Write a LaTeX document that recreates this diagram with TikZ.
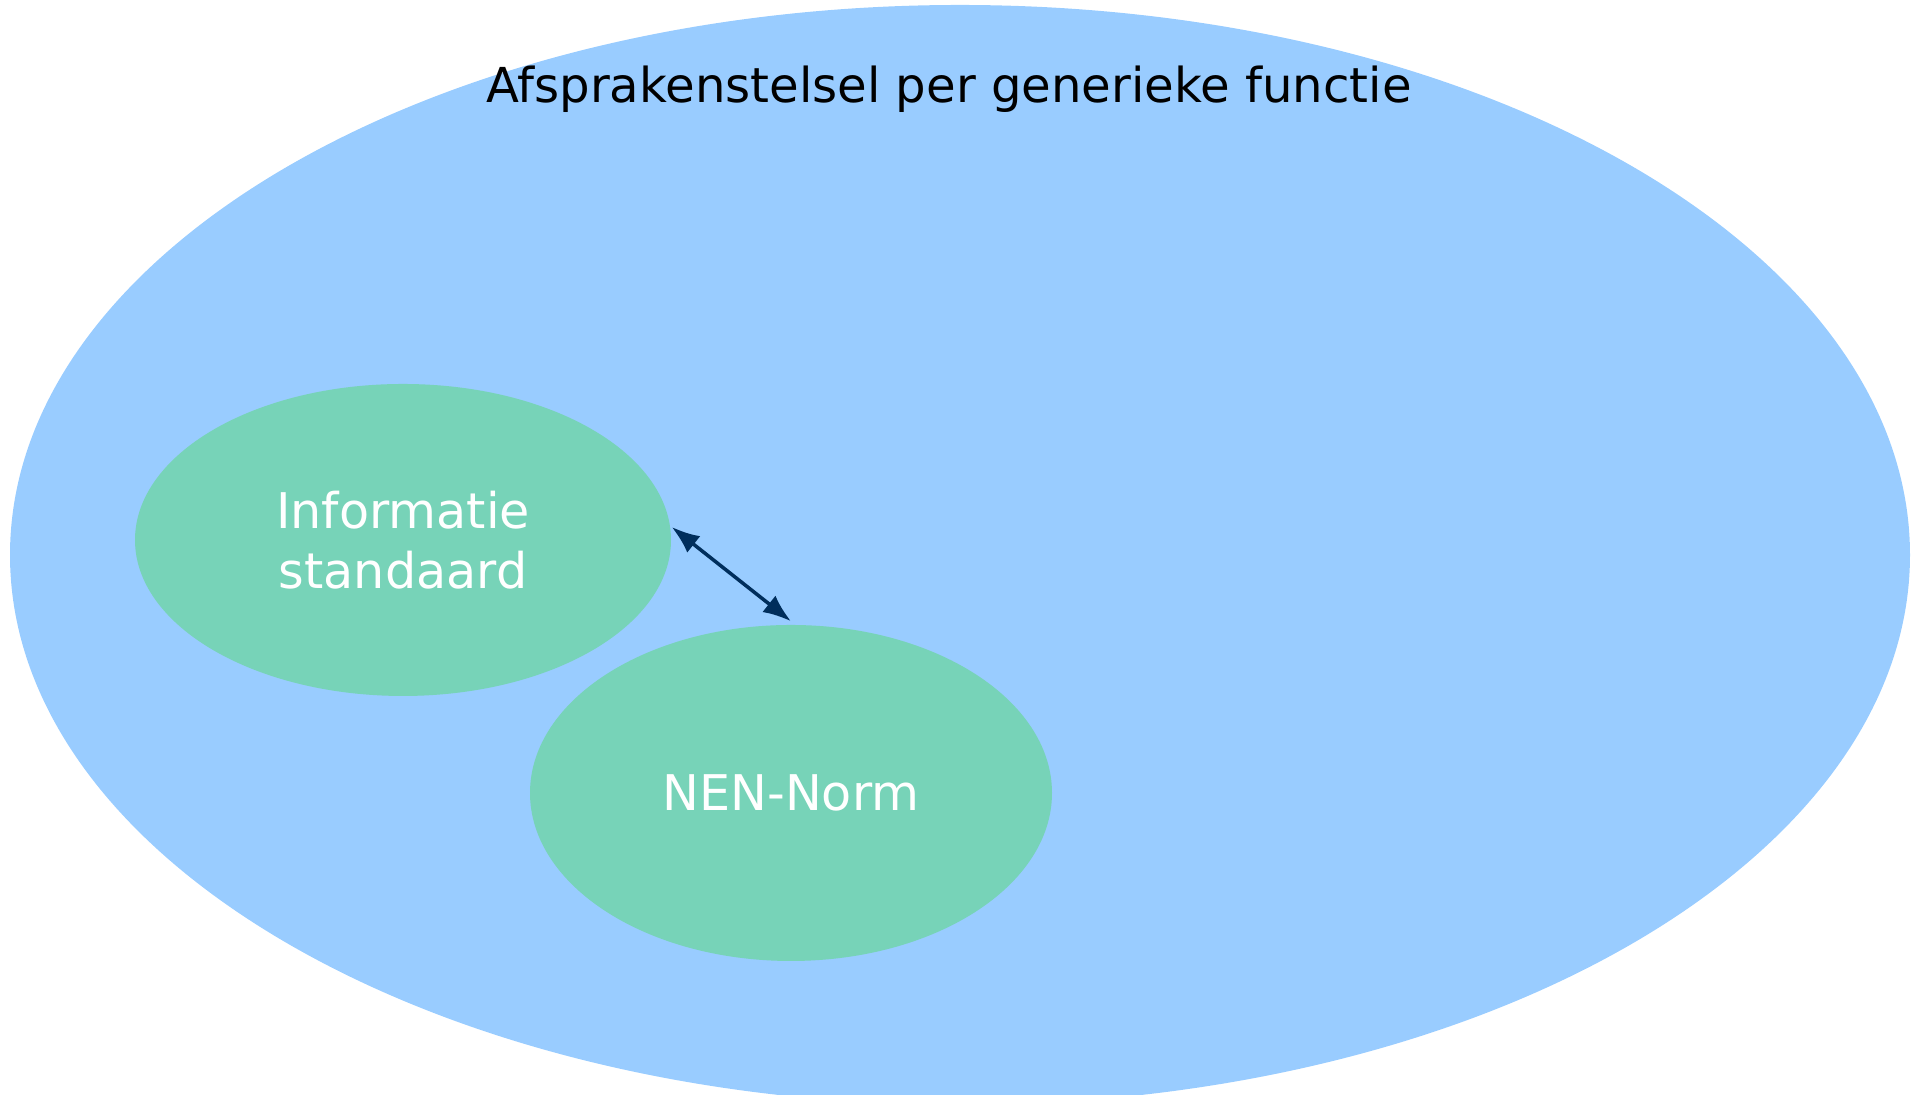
\documentclass[tikz,border=0pt]{standalone}
\usepackage{fontspec}
\setmainfont{DejaVu Sans}
\usepackage{tikz}
\usetikzlibrary{calc, positioning, arrows.meta, shapes}
\definecolor{stelselblue}{RGB}{153,204,255}
\definecolor{normgreen}{RGB}{119,211,184}
\definecolor{arrownavy}{RGB}{0,46,92}

\begin{document}
\begin{tikzpicture}[node distance=1.5cm]
		\useasboundingbox (0,0) rectangle (19.21,10.95);

		% nodes - outer set and its two parts %
		\node[ellipse, fill=stelselblue, inner sep=0, minimum width=19cm, minimum height=11cm] (stelsel) at (9.60,5.40) {};
		\node[below=0.49cm of stelsel.north, xshift=-0.11cm, font=\fontsize{13.7}{17}\selectfont, text centered] (titel) {Afsprakenstelsel per generieke functie};
		\node[ellipse, fill=normgreen, inner sep=0, minimum width=5.36cm, minimum height=3.12cm, text=white, align=center, font=\fontsize{14}{17}\selectfont] (info) at (4.03,5.55) {Informatie\\standaard};
		\node[ellipse, fill=normgreen, inner sep=0, minimum width=5.22cm, minimum height=3.36cm, text=white, font=\fontsize{14}{17}\selectfont] (nen) at (7.91,3.02) {NEN-Norm};

		% edges %
		\draw[{Latex[length=2.8mm,width=2.1mm]}-{Latex[length=2.8mm,width=2.1mm]}, line width=1, arrownavy] ([yshift=1.3mm]info.east) -- ([yshift=0.3mm]nen.north);

		\end{tikzpicture}
\end{document}
